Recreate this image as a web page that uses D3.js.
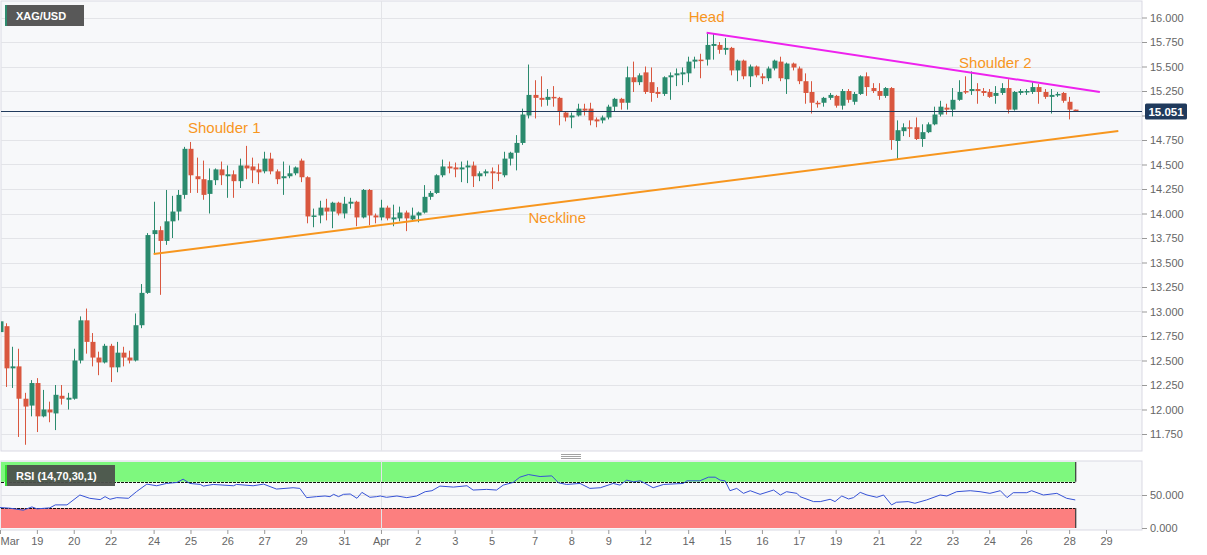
<!DOCTYPE html>
<html>
<head>
<meta charset="UTF-8">
<title>XAG/USD</title>
<script src="https://cdn.jsdelivr.net/npm/d3@7"></script>
<style>
  body { margin: 0; background: #fff; }
  svg { display: block; font-family: "Liberation Sans", Arial, sans-serif; }
</style>
</head>
<body>
<div id="chart"></div>
<script>
// 4h candles, index 0 = Mar 18
var opens = [12.79,12.85,12.42,12.44,12.11,12.04,12.27,11.93,12.00,11.96,12.14,12.10,12.11,12.50,12.91,12.69,12.53,12.48,12.65,12.43,
  12.58,12.53,12.50,12.86,13.19,13.79,13.83,13.72,13.92,14.02,14.19,14.66,14.38,14.35,14.20,14.34,14.45,14.38,14.40,14.33,
  14.49,14.48,14.45,14.43,14.56,14.43,14.36,14.38,14.41,14.54,14.37,13.97,13.98,14.06,14.02,14.11,14.00,14.10,14.12,13.96,
  14.24,13.98,13.96,14.06,13.94,13.95,14.01,13.94,13.98,14.01,14.17,14.21,14.39,14.48,14.47,14.45,14.47,14.49,14.38,14.41,
  14.43,14.42,14.39,14.56,14.62,14.72,15.00,15.21,15.18,15.16,15.19,15.18,15.03,14.98,15.00,15.07,15.07,14.96,14.95,14.98,
  15.09,15.17,15.13,15.39,15.34,15.44,15.34,15.24,15.22,15.39,15.41,15.42,15.43,15.55,15.57,15.57,15.71,15.72,15.67,15.69,
  15.46,15.56,15.40,15.50,15.40,15.38,15.48,15.55,15.37,15.53,15.48,15.35,15.24,15.13,15.13,15.18,15.20,15.10,15.25,15.14,
  15.22,15.40,15.28,15.25,15.20,15.28,14.74,14.84,14.88,14.88,14.76,14.83,14.91,15.01,15.08,15.06,15.16,15.25,15.25,15.27,
  15.25,15.24,15.20,15.23,15.28,15.06,15.23,15.24,15.24,15.29,15.24,15.19,15.21,15.23,15.14,15.06];
var highs = [12.92,12.88,12.64,12.62,12.17,12.30,12.32,12.20,12.08,12.25,12.25,12.17,12.62,12.95,13.03,12.78,12.59,12.67,12.67,12.69,
  12.64,12.60,12.98,13.28,13.80,14.12,13.87,14.24,14.18,14.24,14.68,14.73,14.57,14.54,14.46,14.46,14.53,14.49,14.44,14.56,
  14.69,14.57,14.51,14.63,14.62,14.45,14.53,14.49,14.48,14.56,14.38,14.05,14.13,14.15,14.12,14.12,14.17,14.16,14.13,14.25,
  14.25,14.00,14.14,14.08,14.09,14.07,14.03,14.06,14.02,14.29,14.23,14.40,14.55,14.53,14.52,14.53,14.54,14.53,14.43,14.45,
  14.47,14.50,14.63,14.63,14.80,15.07,15.52,15.36,15.40,15.27,15.30,15.19,15.04,15.03,15.12,15.12,15.13,14.98,15.00,15.11,
  15.18,15.18,15.50,15.55,15.43,15.50,15.49,15.29,15.40,15.44,15.48,15.49,15.60,15.60,15.63,15.84,15.84,15.75,15.79,15.70,
  15.57,15.57,15.52,15.51,15.43,15.50,15.57,15.60,15.54,15.54,15.50,15.43,15.35,15.15,15.19,15.23,15.21,15.27,15.27,15.24,
  15.41,15.44,15.33,15.33,15.29,15.29,14.95,14.92,14.95,14.98,14.91,14.93,15.09,15.15,15.12,15.28,15.36,15.40,15.45,15.33,
  15.28,15.27,15.30,15.33,15.37,15.25,15.27,15.27,15.34,15.32,15.27,15.27,15.24,15.24,15.19,15.06];
var lows = [12.56,12.23,12.22,11.72,11.64,11.93,11.77,11.92,11.87,11.79,12.05,12.00,12.10,12.47,12.57,12.44,12.35,12.47,12.28,12.38,
  12.44,12.47,12.49,12.83,13.18,13.59,13.17,13.68,13.75,13.93,14.15,14.21,14.21,14.14,14.00,14.29,14.29,14.16,14.16,14.26,
  14.35,14.31,14.30,14.41,14.40,14.30,14.19,14.36,14.39,14.32,13.90,13.86,13.90,13.93,13.85,13.98,13.95,14.05,13.87,13.95,
  13.88,13.90,13.93,13.93,13.87,13.92,13.82,13.93,13.91,14.00,14.14,14.20,14.37,14.41,14.37,14.32,14.31,14.27,14.33,14.38,
  14.25,14.33,14.37,14.49,14.44,14.70,14.97,14.97,15.09,15.10,15.09,14.90,14.94,14.87,14.99,15.00,14.90,14.88,14.92,14.96,
  15.04,15.06,15.06,15.24,15.31,15.22,15.14,15.18,15.20,15.16,15.30,15.31,15.34,15.48,15.38,15.51,15.57,15.63,15.62,15.41,
  15.35,15.37,15.29,15.39,15.32,15.35,15.46,15.35,15.22,15.46,15.32,15.12,15.02,15.08,15.09,15.16,15.08,15.06,15.13,15.11,
  15.21,15.20,15.23,15.16,15.18,14.65,14.55,14.79,14.78,14.75,14.68,14.82,14.90,14.99,15.01,14.99,15.15,15.22,15.21,15.12,
  15.20,15.18,15.12,15.21,15.02,15.05,15.21,15.21,15.22,15.12,15.17,15.02,15.19,15.13,14.96,15.04];
var closes = [12.90,12.42,12.44,12.11,12.03,12.27,11.93,12.00,11.97,12.15,12.11,12.12,12.50,12.91,12.69,12.53,12.48,12.65,12.43,12.58,
  12.53,12.50,12.86,13.19,13.78,13.83,13.72,13.92,14.02,14.19,14.66,14.39,14.35,14.19,14.34,14.45,14.39,14.40,14.33,14.49,
  14.46,14.44,14.42,14.56,14.43,14.35,14.38,14.41,14.47,14.37,13.97,13.98,14.06,14.02,14.11,14.00,14.10,14.12,13.96,14.24,
  13.98,13.96,14.06,13.95,13.96,14.01,13.95,13.98,14.01,14.17,14.21,14.39,14.48,14.46,14.45,14.47,14.49,14.38,14.41,14.43,
  14.41,14.41,14.56,14.62,14.72,15.01,15.21,15.18,15.16,15.19,15.18,15.04,14.98,15.00,15.07,15.05,14.95,14.94,14.98,15.09,
  15.17,15.13,15.39,15.34,15.41,15.24,15.23,15.22,15.39,15.41,15.43,15.44,15.55,15.57,15.56,15.72,15.73,15.67,15.69,15.46,
  15.56,15.40,15.50,15.41,15.38,15.48,15.56,15.38,15.53,15.49,15.35,15.23,15.13,15.12,15.18,15.21,15.10,15.25,15.16,15.22,
  15.40,15.29,15.25,15.20,15.28,14.75,14.85,14.88,14.87,14.76,14.83,14.91,15.01,15.09,15.06,15.16,15.24,15.24,15.27,15.25,
  15.23,15.19,15.23,15.28,15.06,15.24,15.25,15.25,15.29,15.24,15.19,15.21,15.22,15.15,15.06,15.05];
var lastPrice = 15.051;

var priceTicks = [11.75,12,12.25,12.5,12.75,13,13.25,13.5,13.75,14,14.25,14.5,14.75,15,15.25,15.5,15.75,16];
var rsiTicks = [0, 50];
var dayTicks = [0,6,12,18,25,31,37,43,49,56,62,68,74,80,87,93,99,105,112,118,124,130,136,143,149,155,161,167,174,180];
var dayLabels = ["Mar","19","20","22","24","25","26","27","29","31","Apr","2","3","5","7","8","9","12","14","15","16","17","19","21","22","23","24","26","28","29"];
var monthStart = 62;

// rsi (14), [candle index, value]
var rsiPts = [[0,31],[1.6,30],[3.8,27],[5.2,32],[6,29],[8.1,30.5],[9,35],[10.9,35],[13,50],[14.6,45],[16.3,43],[17.1,47.5],[17.9,43.5],[19,46],
  [20.9,45],[22.2,55],[23.9,66.5],[25.5,64],[27.1,67.5],[28.8,69],[29.8,74],[30.9,67.5],[32.6,66],[33.1,63.5],[34.7,66],[38,64],[38.5,66],
  [41.2,64],[42.9,66.5],[45,59],[47.7,61],[48.8,60],[49.9,46],[51.5,47.5],[52.9,48.5],[53.7,47.5],[54.3,51],[55.1,47.5],[55.9,51],[57,51.5],
  [58.1,45],[58.9,54],[60.2,46.5],[61.3,47.5],[61.9,48.5],[62.9,46.5],[64.6,48.5],[66.2,46],[67.8,48.5],[69.2,55],[70.3,56.5],[71.6,63.5],
  [73.8,62],[76,64],[77,57.5],[79.2,58.5],[80.8,57.5],[81.9,65],[83.5,69],[84.6,77],[86,81],[87.9,78],[89.8,79],[90.9,68.5],[92.2,66],
  [94.4,67.5],[96,60],[97.7,61],[99.8,67.5],[100.9,65],[102,72.5],[103.1,70],[104.2,71.5],[106.3,61],[108,66],[111.2,67.5],[111.8,71.5],
  [113.9,71.5],[115.3,77],[116.4,77],[117.2,72.5],[118,71.5],[118.8,56.5],[119.9,60],[121,52.5],[122.1,56.5],[123.7,51],[125.9,57.5],[127,50],
  [128,55],[129.7,52.5],[130.2,47.5],[132.4,40],[133.5,40],[135.1,43.5],[135.9,40],[137,48.5],[138.1,44],[138.9,46],[140,54],[141.1,50],
  [142.7,46.5],[143.8,50],[145.1,35],[145.9,39],[147.8,40],[148.9,37.5],[150.8,42.5],[153,50],[154.1,48.5],[155.7,55],[157.9,56.5],[159.5,55],
  [161.1,52.5],[162.8,56.5],[163.9,46],[164.9,53.5],[167.1,53.5],[167.9,56.5],[169.8,50],[172,52.5],[173.6,45],[175,42.5]];
var rsiHigh = 70, rsiLow = 30;

// head & shoulders drawing, [candle index, price]
var neckline = [[25, 13.587], [182, 14.842]];
var headLine = [[115, 15.845], [179, 15.24]];
var notes = [
  { text: "Head", i: 115, p: 15.955 },
  { text: "Shoulder 1", i: 36.5, p: 14.82 },
  { text: "Shoulder 2", i: 162, p: 15.485 },
  { text: "Neckline", i: 90.7, p: 13.905 }
];

var upColor = "#2a8a6d", downColor = "#d9573f";
var orange = "#f7961e", magenta = "#ee22ee";

var W = 1207, H = 555;
var plotRight = 1142;
var mainTop = 1, mainBottom = 451, rsiTop = 461, rsiBottom = 530;

var svg = d3.select("#chart").append("svg")
  .attr("width", W)
  .attr("height", H);

var x = d3.scaleLinear().domain([0, 180]).range([0, 1106]);
var y = d3.scaleLinear().domain([11.75, 16]).range([434, 17.5]);
var yRsi = d3.scaleLinear().domain([0, 100]).range([528, 462]);

svg.append("defs").append("clipPath").attr("id", "clipMain")
  .append("rect").attr("x", 1).attr("y", mainTop).attr("width", plotRight - 1).attr("height", mainBottom - mainTop);

// panels
svg.append("rect")
  .attr("x", 1).attr("y", mainTop).attr("width", plotRight - 1).attr("height", mainBottom - mainTop)
  .attr("fill", "#f7f8fa").attr("stroke", "#d9d9e3");
svg.append("rect")
  .attr("x", 1).attr("y", rsiTop).attr("width", plotRight - 1).attr("height", rsiBottom - rsiTop)
  .attr("fill", "#f7f8fa").attr("stroke", "#d9d9e3");

// grid
svg.append("g").selectAll("line").data(priceTicks).enter().append("line")
  .attr("x1", 1).attr("x2", plotRight)
  .attr("y1", function(d) { return Math.round(y(d)) + 0.5; })
  .attr("y2", function(d) { return Math.round(y(d)) + 0.5; })
  .attr("stroke", "#e3e4e8");
svg.append("line")
  .attr("x1", Math.round(x(monthStart)) + 0.5).attr("x2", Math.round(x(monthStart)) + 0.5)
  .attr("y1", mainTop).attr("y2", mainBottom)
  .attr("stroke", "#e3e4e8");

// candles
var idx = d3.range(opens.length);
var candles = svg.append("g").attr("clip-path", "url(#clipMain)");
candles.selectAll("line.wick").data(idx).enter().append("line")
  .attr("class", "wick")
  .attr("x1", function(i) { return Math.round(x(i)) + 0.5; })
  .attr("x2", function(i) { return Math.round(x(i)) + 0.5; })
  .attr("y1", function(i) { return y(highs[i]); })
  .attr("y2", function(i) { return y(lows[i]); })
  .attr("stroke", function(i) { return closes[i] >= opens[i] ? upColor : downColor; })
  .attr("stroke-width", 1);
candles.selectAll("rect.body").data(idx).enter().append("rect")
  .attr("class", "body")
  .attr("x", function(i) { return Math.round(x(i)) - 1.5; })
  .attr("width", 5)
  .attr("y", function(i) { return y(Math.max(opens[i], closes[i])); })
  .attr("height", function(i) { return Math.max(1.5, Math.abs(y(opens[i]) - y(closes[i]))); })
  .attr("fill", function(i) { return closes[i] >= opens[i] ? upColor : downColor; });

// trend lines
var tl = d3.line()
  .x(function(d) { return x(d[0]); })
  .y(function(d) { return y(d[1]); });
svg.append("path").datum(neckline).attr("d", tl)
  .attr("fill", "none").attr("stroke", orange).attr("stroke-width", 2);
svg.append("path").datum(headLine).attr("d", tl)
  .attr("fill", "none").attr("stroke", magenta).attr("stroke-width", 2);

svg.append("g").selectAll("text").data(notes).enter().append("text")
  .attr("x", function(d) { return x(d.i); })
  .attr("y", function(d) { return y(d.p); })
  .attr("text-anchor", "middle")
  .attr("font-size", 15)
  .attr("fill", orange)
  .text(function(d) { return d.text; });

// last price line
var yLast = Math.round(y(lastPrice)) + 0.5;
svg.append("line")
  .attr("x1", 1).attr("x2", plotRight).attr("y1", yLast).attr("y2", yLast)
  .attr("stroke", "#203a5c").attr("stroke-width", 1);

// price axis (labels under the last price tag are hidden, as on the source)
var yAxis = svg.append("g")
  .attr("transform", "translate(" + plotRight + ",0)")
  .call(d3.axisRight(y).tickValues(priceTicks).tickFormat(d3.format(".3f")).tickSize(5).tickPadding(3));
yAxis.select(".domain").remove();
yAxis.selectAll("line").attr("stroke", "#999");
yAxis.selectAll("text").attr("fill", "#666").attr("font-size", 11).attr("font-family", "Liberation Sans, Arial, sans-serif");
yAxis.selectAll(".tick").filter(function(d) { return Math.abs(y(d) - yLast) < 12; }).select("text").remove();

svg.append("rect")
  .attr("x", 1145).attr("y", yLast - 8).attr("width", 42).attr("height", 16)
  .attr("rx", 1.5).attr("fill", "#203a5c");
svg.append("text")
  .attr("x", 1166).attr("y", yLast + 4)
  .attr("text-anchor", "middle").attr("font-size", 11.5).attr("font-weight", "bold")
  .attr("fill", "#fff").text(d3.format(".3f")(lastPrice));

// symbol tag
svg.append("rect").attr("x", 5).attr("y", 5).attr("width", 79).attr("height", 21).attr("fill", "#585858");
svg.append("rect").attr("x", 5).attr("y", 5).attr("width", 2).attr("height", 21).attr("fill", "#2e8b6e");
svg.append("text").attr("x", 16).attr("y", 20).attr("font-size", 11).attr("font-weight", "bold")
  .attr("fill", "#fff").text("XAG/USD");

// rsi panel
var bandRight = x(opens.length - 1);
svg.append("rect")
  .attr("x", 1).attr("y", yRsi(100)).attr("width", bandRight - 1).attr("height", yRsi(rsiHigh) - yRsi(100))
  .attr("fill", "#7ef87e");
svg.append("rect")
  .attr("x", 1).attr("y", yRsi(rsiLow)).attr("width", bandRight - 1).attr("height", yRsi(0) - yRsi(rsiLow))
  .attr("fill", "#fc7f7f");
svg.append("line")
  .attr("x1", 1).attr("x2", plotRight).attr("y1", Math.round(yRsi(50)) + 0.5).attr("y2", Math.round(yRsi(50)) + 0.5)
  .attr("stroke", "#e0e1e6");
svg.append("line")
  .attr("x1", Math.round(x(monthStart)) + 0.5).attr("x2", Math.round(x(monthStart)) + 0.5)
  .attr("y1", rsiTop).attr("y2", rsiBottom)
  .attr("stroke", "#e3e4e8");
[rsiHigh, rsiLow].forEach(function(v) {
  svg.append("line")
    .attr("x1", 1).attr("x2", bandRight)
    .attr("y1", Math.round(yRsi(v)) + 0.5).attr("y2", Math.round(yRsi(v)) + 0.5)
    .attr("stroke", "#111").attr("stroke-dasharray", "3,1");
});
svg.append("line")
  .attr("x1", bandRight + 0.5).attr("x2", bandRight + 0.5).attr("y1", yRsi(100)).attr("y2", yRsi(rsiHigh))
  .attr("stroke", "#111");
svg.append("line")
  .attr("x1", bandRight + 0.5).attr("x2", bandRight + 0.5).attr("y1", yRsi(rsiLow)).attr("y2", yRsi(0))
  .attr("stroke", "#111");

svg.append("path").datum(rsiPts)
  .attr("d", d3.line().x(function(d) { return x(d[0]); }).y(function(d) { return yRsi(d[1]); }))
  .attr("fill", "none").attr("stroke", "#3652d6").attr("stroke-width", 1);

svg.append("rect").attr("x", 5).attr("y", 465).attr("width", 110).attr("height", 21).attr("fill", "#4d524d").attr("opacity", 0.95);
svg.append("rect").attr("x", 5).attr("y", 465).attr("width", 2).attr("height", 21).attr("fill", "#33dd33");
svg.append("text").attr("x", 16).attr("y", 480).attr("font-size", 11).attr("font-weight", "bold")
  .attr("fill", "#fff").text("RSI (14,70,30,1)");

var rAxis = svg.append("g")
  .attr("transform", "translate(" + plotRight + ",0)")
  .call(d3.axisRight(yRsi).tickValues(rsiTicks).tickFormat(d3.format(".3f")).tickSize(5).tickPadding(3));
rAxis.select(".domain").remove();
rAxis.selectAll("line").attr("stroke", "#999");
rAxis.selectAll("text").attr("fill", "#666").attr("font-size", 11).attr("font-family", "Liberation Sans, Arial, sans-serif");

// pane splitter handle
[454.5, 456.5, 458.5].forEach(function(yy) {
  svg.append("line").attr("x1", 561).attr("x2", 581).attr("y1", yy).attr("y2", yy)
    .attr("stroke", "#8a8a8a").attr("stroke-width", 0.8);
});

// time axis
var xAxis = svg.append("g")
  .attr("transform", "translate(0," + rsiBottom + ")")
  .call(d3.axisBottom(x).tickValues(dayTicks).tickFormat(function(d, i) { return dayLabels[i]; }).tickSize(4).tickPadding(3));
xAxis.select(".domain").remove();
xAxis.selectAll("line").attr("stroke", "#999");
xAxis.selectAll("text").attr("fill", "#666").attr("font-size", 11).attr("font-family", "Liberation Sans, Arial, sans-serif");
xAxis.selectAll("text").filter(function(d, i) { return i === 0; }).attr("text-anchor", "start").attr("x", 0);
</script>
</body>
</html>
